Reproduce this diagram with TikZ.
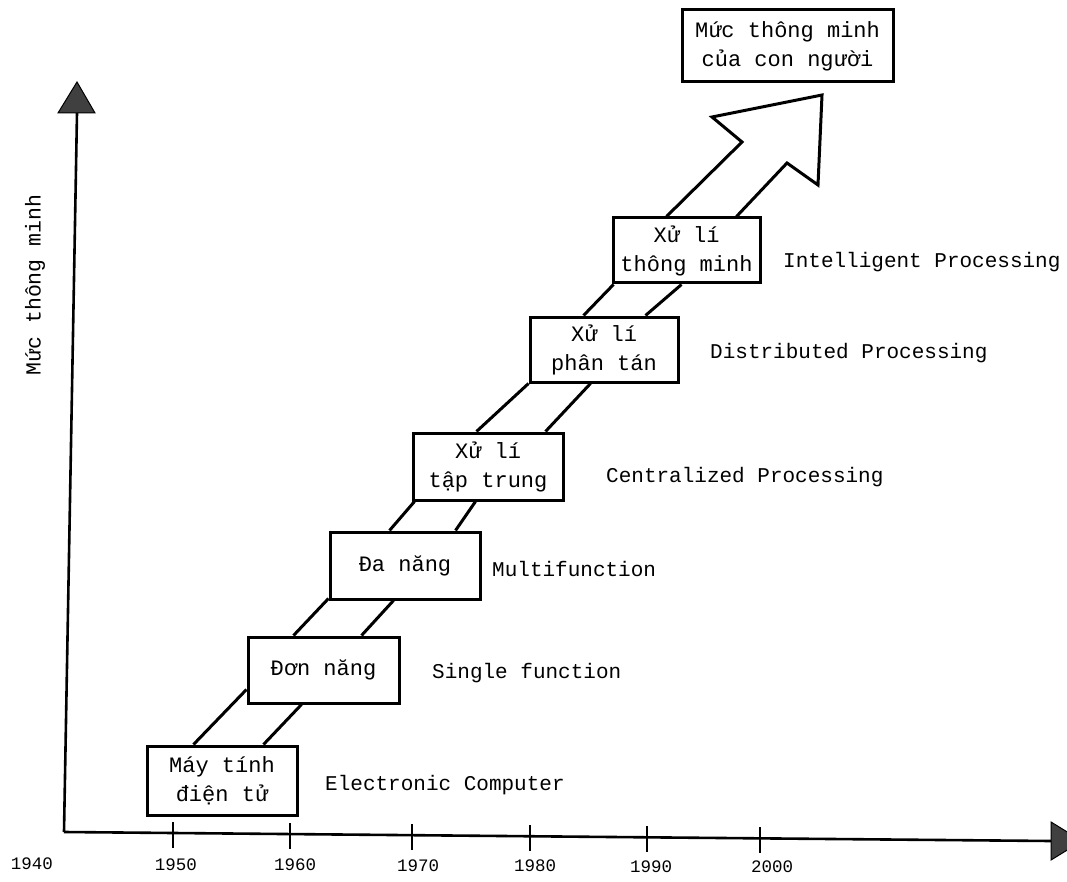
\documentclass[tikz,border=0pt]{standalone}
\usepackage{fontspec}
\setmainfont{Liberation Mono}
\usetikzlibrary{calc}
\tikzset{
  box/.style={draw=black, line width=3pt, fill=white, align=center, inner sep=0pt,
    font=\fontsize{22}{29}\selectfont},
  conn/.style={draw=black, line width=3pt},
  axisline/.style={draw=black, line width=2.6pt},
  tickline/.style={draw=black, line width=1.3pt},
  label/.style={anchor=west, inner sep=0pt, font=\fontsize{21}{24}\selectfont},
  year/.style={inner sep=0pt, font=\fontsize{17.5}{20}\selectfont},
  head/.style={fill=black!75, draw=black, line width=1pt},
}
\begin{document}
\begin{tikzpicture}[x=1pt,y=-1pt]
\clip (0,0) rectangle (1067,882);
\useasboundingbox (0,0) rectangle (1067,882);
\fill[white] (0,0) rectangle (1067,882);

% axes
\coordinate (O) at (64,832);
\coordinate (Ytop) at (77,113);
\coordinate (Xend) at (1051,841);
\draw[axisline] (O) -- (Ytop);
\draw[axisline] (O) -- (Xend);
\filldraw[head] (Ytop) ++(-19,0) coordinate (ya) -- ($(Ytop)+(18,0)$) coordinate (yb) -- (77,82) coordinate (ytip) -- cycle;
\filldraw[head] (1051,822) coordinate (xa) -- (1051,860) coordinate (xb) -- (1082,841) coordinate (xtip) -- cycle;

% ticks
\foreach \x/\n in {173/t50,290/t60,412/t70,530/t80,647/t90,760/t00}{
  \coordinate (\n) at (\x,{832+(\x-64)*9/987});
  \draw[tickline] ($(\n)+(0,-11)$) -- ($(\n)+(0,15)$);
}
\node[year] (y40) at (32,864) {1940};
\node[year] (y50) at (176,865) {1950};
\node[year] (y60) at (295,865) {1960};
\node[year] (y70) at (418,866) {1970};
\node[year] (y80) at (535,866) {1980};
\node[year] (y90) at (651,867) {1990};
\node[year] (y00) at (772,867) {2000};

\node[rotate=90, inner sep=0pt, font=\fontsize{21.5}{24}\selectfont] (ylab) at (35,285) {Mức thông minh};

% boxes
\node[box, minimum width=150, minimum height=69] (b1) at (222,780.5) {Máy tính\\điện tử};
\node[box, minimum width=151, minimum height=66] (b2) at (323.5,670) {Đơn năng};
\node[box, minimum width=150, minimum height=67] (b3) at (405,565.5) {Đa năng};
\node[box, minimum width=150, minimum height=67] (b4) at (488,466.5) {Xử lí\\tập trung};
\node[box, minimum width=148, minimum height=65] (b5) at (604,349.5) {Xử lí\\phân tán};
\node[box, minimum width=147, minimum height=65] (b6) at (686.5,250.5) {Xử lí\\thông minh};
\node[box, minimum width=211, minimum height=72] (top) at (787.5,46) {Mức thông minh\\của con người};

% connectors
\draw[conn] ($(b1.north west)+(48,0)$) -- ($(b2.south west)+(0,-15)$);
\draw[conn] ($(b1.north west)+(118,0)$) -- ($(b2.south west)+(55,0)$);
\draw[conn] ($(b2.north west)+(47,0)$) -- ($(b3.south west)+(0,-2)$);
\draw[conn] ($(b2.north west)+(115,0)$) -- ($(b3.south west)+(65,0)$);
\draw[conn] ($(b3.north west)+(61,0)$) -- ($(b4.south west)+(3,0)$);
\draw[conn] ($(b3.north west)+(127,0)$) -- ($(b4.south west)+(64,0)$);
\draw[conn] ($(b4.north west)+(65,0)$) -- (b5.south west);
\draw[conn] ($(b4.north west)+(134,0)$) -- ($(b5.south west)+(62,0)$);
\draw[conn] ($(b5.north west)+(55,0)$) -- ($(b6.south west)+(2,0)$);
\draw[conn] ($(b5.north west)+(117,0)$) -- ($(b6.south west)+(70,0)$);

% big hollow arrow toward the top box
\coordinate (aL) at ($(b6.north west)+(55,0)$);
\coordinate (aR) at ($(b6.north west)+(125,0)$);
\draw[conn, line join=miter] (aL) -- (742,142) -- (712,117) -- (822,95) -- (818,185) -- (787,163) -- (aR);

% labels
\node[label] (l1) at (325,785) {Electronic Computer};
\node[label] (l2) at (432,673) {Single function};
\node[label] (l3) at (492,569) {Multifunction};
\node[label] (l4) at (606,477) {Centralized Processing};
\node[label] (l5) at (710,353) {Distributed Processing};
\node[label] (l6) at (783,262) {Intelligent Processing};
\end{tikzpicture}
\end{document}
